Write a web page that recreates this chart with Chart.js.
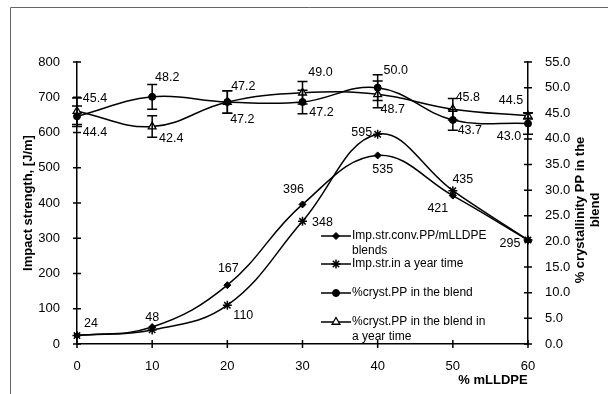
<!DOCTYPE html>
<html><head><meta charset="utf-8">
<script src="https://cdn.jsdelivr.net/npm/chart.js@4/dist/chart.umd.min.js"></script>
<style>html,body{margin:0;padding:0;background:#fff}#wrap{width:608px;height:394px;position:relative}</style>
</head><body><div id="wrap"><canvas id="c" width="608" height="394"></canvas></div>
<script>
// ---- data ----
const mlldpe = [0, 10, 20, 30, 40, 50, 60];
const impStrength = [24, 48, 167, 396, 535, 421, 295];
const impStrengthYear = [24, 40, 110, 348, 595, 435, 295];
const crystPP = [44.4, 48.2, 47.2, 47.2, 50.0, 43.7, 43.0];
const crystPPYear = [45.4, 42.4, 47.2, 49.0, 48.7, 45.8, 44.5];
const crystPPErr = [2.0, 2.4, 2.2, 2.3, 2.5, 2.0, 2.1];
const crystPPYearErr = [2.6, 2.1, 2.2, 2.2, 2.6, 2.1, 0.6];
const impYearLabelShown = [false, false, true, true, true, true, false];
const seriesNames = [
  ["Imp.str.conv.PP/mLLDPE", "blends"],
  ["Imp.str.in a year time"],
  ["%cryst.PP in the blend"],
  ["%cryst.PP in the blend in", "a year time"]
];
const xTitle = "% mLLDPE";
const yTitle = "Impact strength, [J/m]";
const y2Title = ["% crystallinity PP in the", "blend"];
const yTicks = { min: 0, max: 800, step: 100 };
const y2Ticks = { min: 0, max: 55, step: 5 };
const xTicks = { min: 0, max: 60, step: 10 };

// ---- styling (label offsets in px, legend placement) ----
const labelOffsets = [
  [[14,-12],[0,-10],[1,-17],[-9,-15],[5,14],[-15,13],[-18,4]],
  [null,null,[16,10],[20,1],[-16,-2],[10,-11],null],
  [[18,16],[15,-19],[15,18],[19,11],[18,-17],[17,11],[-19,13]],
  [[18,-13],[19,12],[16,-15],[18,-20],[15,15],[15,-12],[-17,-15]]
];
const FONT = "'Liberation Sans', Arial, Helvetica, sans-serif";
const legendPos = { x: 321, lineLen: 30, textX: 352, ys: [236, 264, 293, 322], lineGap: 14.5 };

const pts = arr => mlldpe.map((x, i) => ({ x: x, y: arr[i] }));

const errorBars = {
  id: 'errorBars',
  afterDatasetsDraw(chart) {
    const ctx = chart.ctx, xs = chart.scales.x, ys = chart.scales.y2;
    const sets = [[crystPP, crystPPErr], [crystPPYear, crystPPYearErr]];
    ctx.save();
    ctx.strokeStyle = '#000'; ctx.lineWidth = 1.5;
    sets.forEach(([vals, errs]) => {
      vals.forEach((v, i) => {
        const px = xs.getPixelForValue(mlldpe[i]);
        const top = ys.getPixelForValue(v + errs[i]);
        const bot = ys.getPixelForValue(v - errs[i]);
        ctx.beginPath();
        ctx.moveTo(px, top); ctx.lineTo(px, bot);
        ctx.moveTo(px - 5, top); ctx.lineTo(px + 5, top);
        ctx.moveTo(px - 5, bot); ctx.lineTo(px + 5, bot);
        ctx.stroke();
      });
    });
    ctx.restore();
  }
};

const decorations = {
  id: 'decorations',
  beforeDraw(chart) {
    const ctx = chart.ctx;
    ctx.save();
    ctx.fillStyle = '#fff'; ctx.fillRect(0, 0, chart.width, chart.height);
    ctx.strokeStyle = '#666'; ctx.lineWidth = 1;
    ctx.beginPath();
    ctx.moveTo(10.5, chart.height); ctx.lineTo(10.5, 7.5); ctx.lineTo(chart.width, 7.5);
    ctx.stroke();
    ctx.restore();
  },
  afterDraw(chart) {
    const ctx = chart.ctx;
    const xs = chart.scales.x, ys = chart.scales.y, y2 = chart.scales.y2;
    ctx.save();
    // crossing tick marks
    ctx.strokeStyle = '#000'; ctx.lineWidth = 1.5;
    ctx.beginPath();
    ys.ticks.forEach(t => { const p = ys.getPixelForValue(t.value); ctx.moveTo(xs.left - 4, p); ctx.lineTo(xs.left + 4, p); });
    y2.ticks.forEach(t => { const p = y2.getPixelForValue(t.value); ctx.moveTo(xs.right - 4, p); ctx.lineTo(xs.right + 4, p); });
    xs.ticks.forEach(t => { const p = xs.getPixelForValue(t.value); ctx.moveTo(p, ys.bottom - 4); ctx.lineTo(p, ys.bottom + 4); });
    ctx.stroke();

    // data labels
    ctx.fillStyle = '#000';
    ctx.font = '12.5px ' + FONT;
    ctx.textAlign = 'center'; ctx.textBaseline = 'middle';
    const series = [
      [impStrength, ys, v => String(v), impStrength.map(() => true)],
      [impStrengthYear, ys, v => String(v), impYearLabelShown],
      [crystPP, y2, v => v.toFixed(1), crystPP.map(() => true)],
      [crystPPYear, y2, v => v.toFixed(1), crystPPYear.map(() => true)]
    ];
    series.forEach(([vals, sc, fmt, shown], si) => {
      vals.forEach((v, i) => {
        const off = labelOffsets[si][i];
        if (!shown[i] || !off) return;
        ctx.fillText(fmt(v), xs.getPixelForValue(mlldpe[i]) + off[0], sc.getPixelForValue(v) + off[1]);
      });
    });

    // axis titles
    ctx.font = 'bold 13px ' + FONT;
    ctx.textAlign = 'center'; ctx.textBaseline = 'middle';
    ctx.fillText(xTitle, 493, 380);
    ctx.save();
    ctx.translate(28, (ys.top + ys.bottom) / 2);
    ctx.rotate(-Math.PI / 2);
    ctx.fillText(yTitle, 0, 0);
    ctx.restore();
    ctx.save();
    ctx.translate(580, 210);
    ctx.rotate(-Math.PI / 2);
    ctx.fillText(y2Title[0], 0, 0);
    ctx.fillText(y2Title[1], 0, 15);
    ctx.restore();

    // legend
    chart.data.datasets.forEach((ds, i) => {
      const y = legendPos.ys[i];
      ctx.strokeStyle = '#000'; ctx.lineWidth = 1.5;
      ctx.beginPath(); ctx.moveTo(legendPos.x, y); ctx.lineTo(legendPos.x + legendPos.lineLen, y); ctx.stroke();
      ctx.fillStyle = ds.pointBackgroundColor; ctx.strokeStyle = '#000'; ctx.lineWidth = ds.pointBorderWidth;
      Chart.helpers.drawPoint(ctx, {
        pointStyle: ds.pointStyle, radius: ds.pointRadius, borderWidth: ds.pointBorderWidth, rotation: 0
      }, legendPos.x + legendPos.lineLen / 2, y);
      ctx.font = '12px ' + FONT;
      ctx.textAlign = 'left'; ctx.textBaseline = 'middle';
      ctx.fillStyle = '#000';
      seriesNames[i].forEach((line, k) => ctx.fillText(line, legendPos.textX, y + k * legendPos.lineGap));
    });
    ctx.restore();
  }
};

const common = { borderColor: '#000', borderWidth: 1.5, tension: 0.4, fill: false, pointBorderColor: '#000', clip: false };

const chart = new Chart(document.getElementById('c'), {
  type: 'line',
  data: {
    datasets: [
      Object.assign({}, common, { label: seriesNames[0].join(' '), data: pts(impStrength), yAxisID: 'y', pointStyle: 'rectRot', pointRadius: 3.5, pointBackgroundColor: '#000', pointBorderWidth: 1 }),
      Object.assign({}, common, { label: seriesNames[1].join(' '), data: pts(impStrengthYear), yAxisID: 'y', pointStyle: 'star', pointRadius: 4.5, pointBackgroundColor: '#000', pointBorderWidth: 1.5 }),
      Object.assign({}, common, { label: seriesNames[2].join(' '), data: pts(crystPP), yAxisID: 'y2', pointStyle: 'circle', pointRadius: 3.5, pointBackgroundColor: '#000', pointBorderWidth: 1 }),
      Object.assign({}, common, { label: seriesNames[3].join(' '), data: pts(crystPPYear), yAxisID: 'y2', pointStyle: 'triangle', pointRadius: 4.5, pointBackgroundColor: '#fff', pointBorderWidth: 1.3 })
    ]
  },
  options: {
    responsive: false,
    animation: false,
    devicePixelRatio: 1,
    layout: { padding: { top: 62, left: 0, right: 0, bottom: 0 } },
    plugins: { legend: { display: false }, tooltip: { enabled: false } },
    scales: {
      x: {
        type: 'linear', min: xTicks.min, max: xTicks.max,
        ticks: { stepSize: xTicks.step, color: '#000', font: { size: 13, family: FONT }, padding: 7, maxRotation: 0 },
        grid: { display: false }, border: { display: true, color: '#000', width: 1.5 },
        afterFit: s => { s.height = 50; }
      },
      y: {
        position: 'left', min: yTicks.min, max: yTicks.max,
        ticks: { stepSize: yTicks.step, color: '#000', font: { size: 13, family: FONT }, padding: 9 },
        grid: { display: false }, border: { display: true, color: '#000', width: 1.5 },
        afterFit: s => { s.width = 77; }
      },
      y2: {
        position: 'right', min: y2Ticks.min, max: y2Ticks.max,
        ticks: { stepSize: y2Ticks.step, color: '#000', font: { size: 13, family: FONT }, padding: 9, callback: v => Number(v).toFixed(1) },
        grid: { display: false }, border: { display: true, color: '#000', width: 1.5 },
        afterFit: s => { s.width = 80; }
      }
    }
  },
  plugins: [decorations, errorBars]
});
</script></body></html>
